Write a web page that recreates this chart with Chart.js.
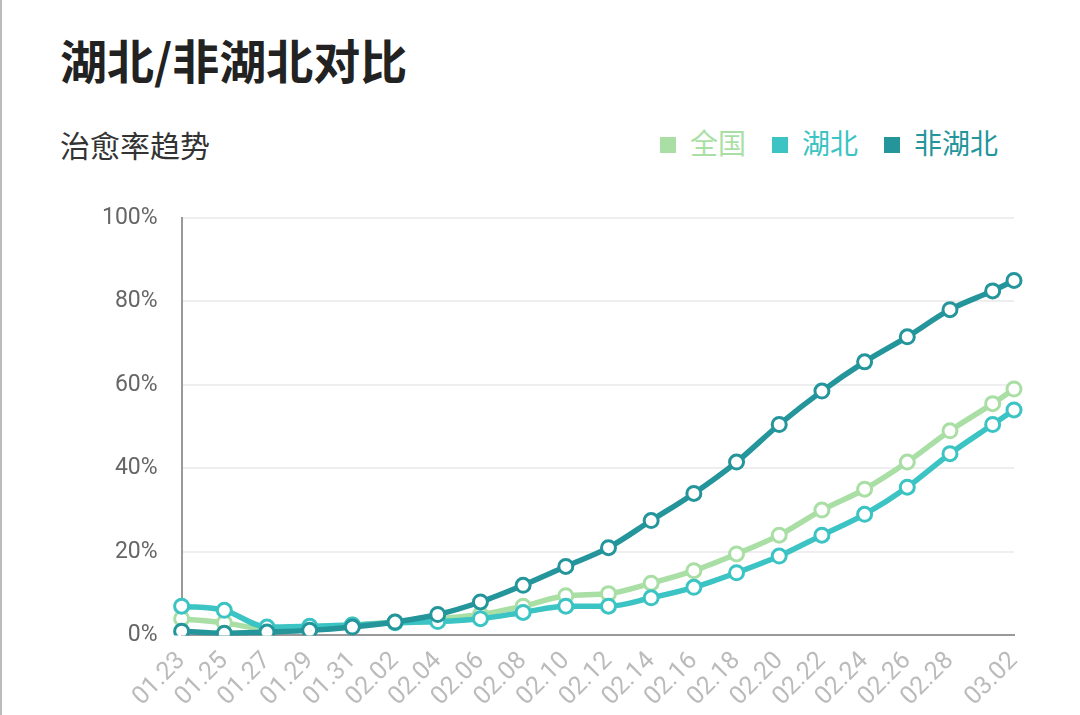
<!DOCTYPE html>
<html><head><meta charset="utf-8">
<script src="https://cdn.jsdelivr.net/npm/chart.js@4"></script>
<style>
body{margin:0;width:1080px;height:715px;background:#fff;font-family:"Noto Sans CJK SC","Noto Sans",sans-serif;position:relative;overflow:hidden;border-left:2px solid #bbb;box-sizing:border-box}
#t{position:absolute;left:58px;top:24px;font-size:47px;font-weight:bold;color:#222}
#s{position:absolute;left:58px;top:122px;font-size:30px;color:#333}
#lg{position:absolute;right:82px;top:122px;font-size:28px}
#lg span{margin-left:26px}
#lg i{display:inline-block;width:16px;height:16px;margin-right:14px;vertical-align:1px}
#c{position:absolute;left:0;top:180px}
</style></head><body>
<div id="t">湖北/非湖北对比</div>
<div id="s">治愈率趋势</div>
<div id="lg"><span style="color:#a9dfa5"><i style="background:#a9dfa5"></i>全国</span><span style="color:#3cc3c3"><i style="background:#3cc3c3"></i>湖北</span><span style="color:#23959b"><i style="background:#23959b"></i>非湖北</span></div>
<canvas id="c" width="1080" height="535"></canvas>
<script>
// every day from 01.23 to 03.02; data only every other day + last
var days = [];
for (var d = 23; d <= 31; d++) days.push('01.' + d);
for (var d = 1; d <= 29; d++) days.push('02.' + (d < 10 ? '0' + d : d));
days.push('03.01', '03.02');
var sampleDays = ['01.23','01.25','01.27','01.29','01.31','02.02','02.04','02.06','02.08','02.10','02.12','02.14','02.16','02.18','02.20','02.22','02.24','02.26','02.28','03.01','03.02'];
var national = [4,3,1.5,2,2.5,3.2,4,5,7,9.5,10,12.5,15.5,19.5,24,30,35,41.5,49,55.5,59];
var hubei = [7,6,2,2.2,2.5,3,3.3,4,5.5,7,7,9,11.5,15,19,24,29,35.5,43.5,50.5,54];
var nonHubei = [1,0.5,0.8,1.2,2,3.2,5,8,12,16.5,21,27.5,34,41.5,50.5,58.5,65.5,71.5,78,82.5,85];

function pts(vals){ return sampleDays.map(function(x,i){ return {x:x, y:vals[i]}; }); }
function ds(label, color, vals){
  return {label:label, data:pts(vals), borderColor:color, backgroundColor:'#fff', borderWidth:5.5,
    pointRadius:7, pointBorderWidth:3, pointBorderColor:color, pointBackgroundColor:'#fff', tension:0.4, cubicInterpolationMode:'monotone'};
}
new Chart(document.getElementById('c'), {
  type:'line',
  data:{labels:days, datasets:[ds('非湖北','#23959b',nonHubei), ds('湖北','#3cc3c3',hubei), ds('全国','#a9dfa5',national)]},
  options:{responsive:false, animation:false, layout:{padding:{left:76,right:68,top:33}},
    plugins:{legend:{display:false}, tooltip:{enabled:false}},
    scales:{
      x:{grid:{display:false}, border:{color:'#999',width:2},
        ticks:{autoSkip:false, maxRotation:45, minRotation:45, color:'#bbb', font:{size:25,family:'Roboto'},
          callback:function(v,i){ return (i%2===0 && i!==38) || i===39 ? days[i] : ''; }}},
      y:{min:0,max:100, border:{color:'#999',width:2}, grid:{color:'#eee',lineWidth:2, drawTicks:false},
        ticks:{stepSize:20, padding:24, color:'#666', font:{size:23,family:'Roboto'}, callback:function(v){return v+'%';}}}
    }}
});
</script></body></html>
